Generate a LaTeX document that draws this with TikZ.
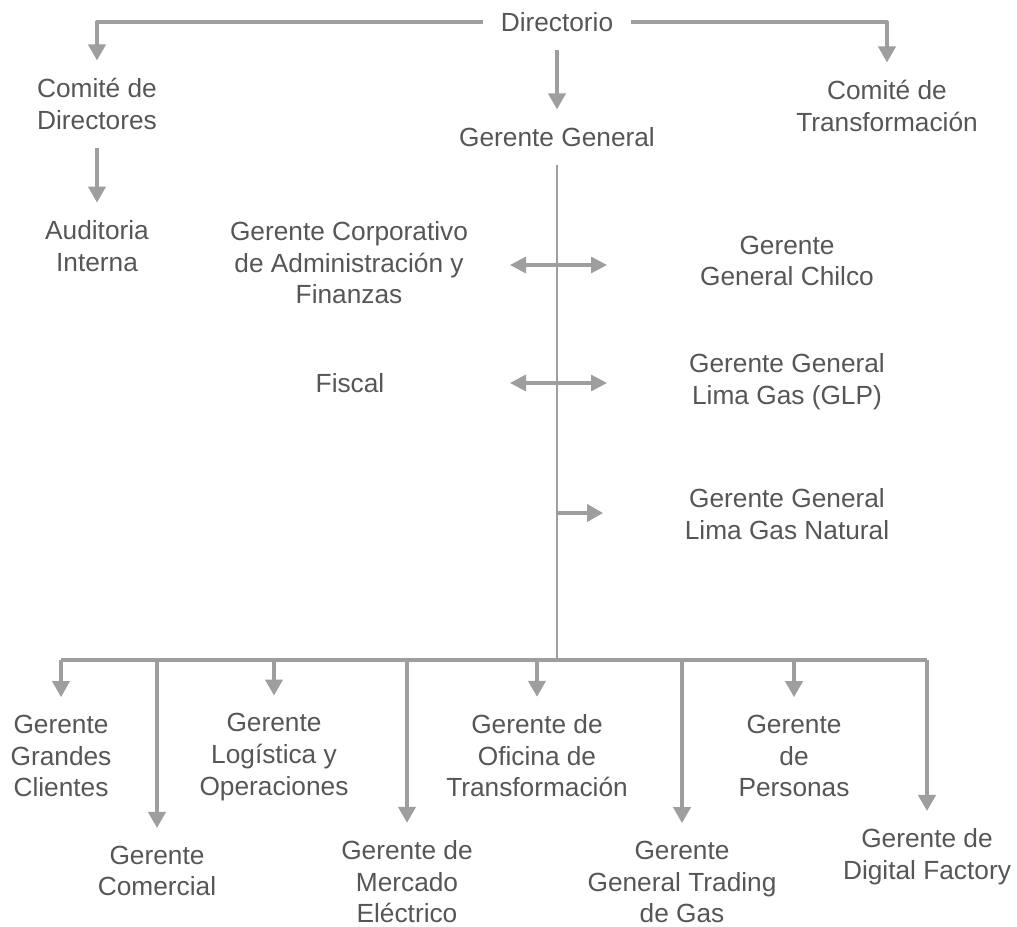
\documentclass[tikz,border=0pt]{standalone}
\usepackage{fontspec}
\setmainfont{Liberation Sans}
\usetikzlibrary{arrows.meta}
\definecolor{linegray}{RGB}{158,158,160}
\definecolor{textgray}{RGB}{84,86,88}
\begin{document}
\begin{tikzpicture}[x=0.75pt,y=-0.75pt,line join=round,
	lbl/.style={align=center,inner sep=0pt,outer sep=13.5pt,text=textgray,font={\fontsize{19.7}{23.7}\selectfont}},
	arr/.style={draw=linegray,line width=2.4pt,-{Triangle[width=13pt,length=12pt]}},
	biarr/.style={draw=linegray,line width=2.4pt,{Triangle[width=12pt,length=12pt]}-{Triangle[width=12pt,length=12pt]}},
	busline/.style={draw=linegray,line width=2.4pt},
	trunk/.style={draw=linegray,line width=1.3pt}]
		\useasboundingbox (0,0) rectangle (1017,927);
		\node[lbl] (dir) at (557,22) {Directorio};
		\node[lbl] (cdir) at (97,104) {Comité de\\Directores};
		\node[lbl] (ctra) at (887,106) {Comité de\\Transformación};
		\node[lbl] (gg) at (557,137) {Gerente General};
		\node[lbl] (audit) at (97,246) {Auditoria\\Interna};
		\node[lbl] (gca) at (349,263) {Gerente Corporativo\\de Administración y\\Finanzas};
		\node[lbl] (fisc) at (350,383) {Fiscal};
		\node[lbl] (chil) at (787,261) {Gerente\\General Chilco};
		\node[lbl] (glp) at (787,382) {Gerente General\\Lima Gas (GLP)};
		\node[lbl] (gnat) at (787,514) {Gerente General\\Lima Gas Natural};
		\node[lbl] (ggc) at (61,756) {Gerente\\Grandes\\Clientes};
		\node[lbl] (glo) at (274,757) {Gerente\\Logística y\\Operaciones};
		\node[lbl] (gof) at (537,756) {Gerente de\\Oficina de\\Transformación};
		\node[lbl] (gpe) at (794,756) {Gerente\\de\\Personas};
		\node[lbl] (gco) at (157,871) {Gerente\\Comercial};
		\node[lbl] (gme) at (407,882) {Gerente de\\Mercado\\Eléctrico};
		\node[lbl] (gtr) at (682,882) {Gerente\\General Trading\\de Gas};
		\node[lbl] (gdf) at (927,857) {Gerente de\\Digital Factory};
		\coordinate (bus) at (557,660);
		\coordinate (cl1) at (510,265);
		\coordinate (cr1) at (607,265);
		\coordinate (cl2) at (510,383);
		\coordinate (cr2) at (607,383);
		\coordinate (ct3) at (557,513);
		\coordinate (cr3) at (603,513);
		\draw[arr] (dir.west) -| (cdir.north);
		\draw[arr] (dir.east) -| (ctra.north);
		\draw[arr] (dir) -- (gg);
		\draw[arr] (cdir) -- (audit);
		\draw[trunk] (gg) -- (bus);
		\draw[biarr] (cl1) -- (cr1);
		\draw[biarr] (cl2) -- (cr2);
		\draw[arr] (ct3) -- (cr3);
		\draw[busline] (ggc |- bus) -- (gdf |- bus);
		\foreach \n in {ggc,glo,gof,gpe,gco,gme,gtr,gdf}
			\draw[arr] (\n |- bus) -- (\n);
\end{tikzpicture}
\end{document}
